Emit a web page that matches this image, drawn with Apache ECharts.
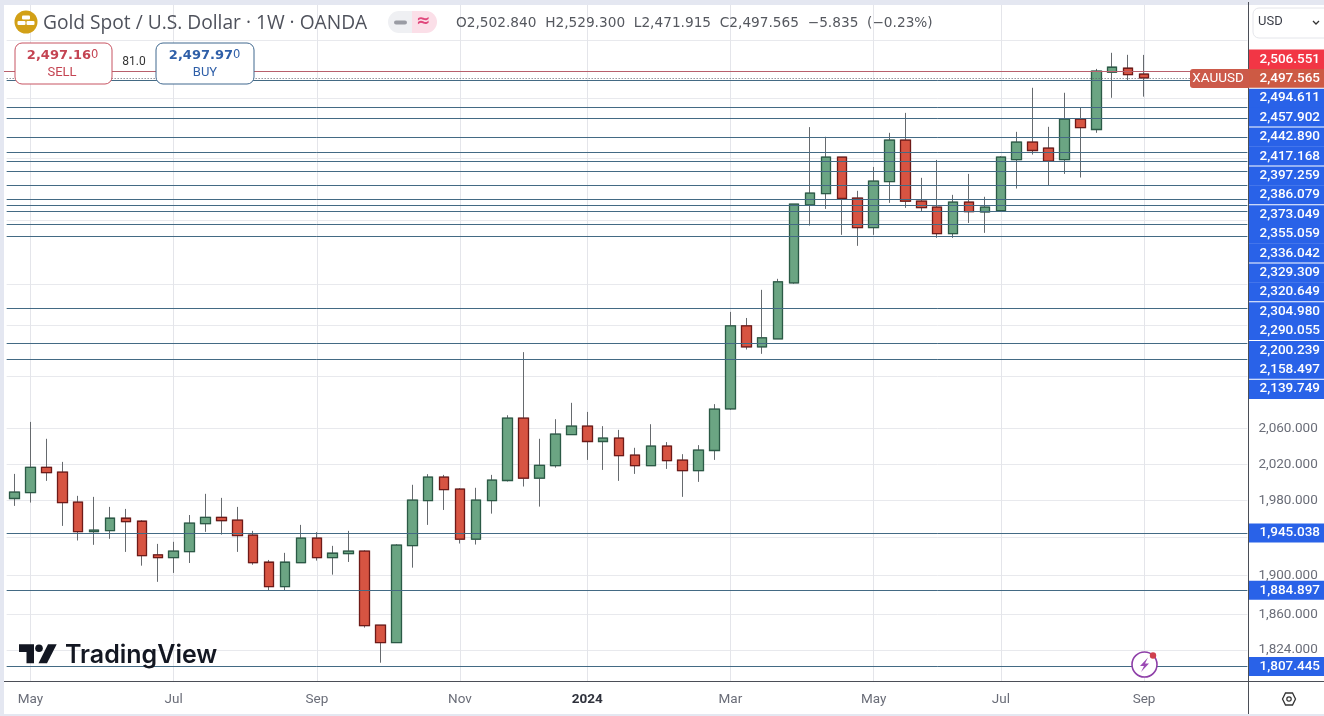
<!DOCTYPE html>
<html>
<head>
<meta charset="utf-8">
<title>Gold Spot / U.S. Dollar</title>
<script src="https://cdn.jsdelivr.net/npm/echarts@6/dist/echarts.min.js"></script>
<style>
    html, body { margin: 0; padding: 0; background: #e4e7f1; overflow: hidden; }
    #panel { position: absolute; left: 4px; top: 5px; width: 1320px; height: 709px; background: #fff; }
    #main { position: absolute; left: 0; top: 0; width: 1324px; height: 716px; }
</style>
</head>
<body>
<div id="panel"></div>
<div id="main"></div>
<script type="text/javascript">
// weekly candles, 24 Apr 2023 to 2 Sep 2024
var opens = [1982.2, 1988.7, 2016.5, 2011.1, 1978.2, 1946.5, 1947.6, 1960.8, 1957.6, 1921.7, 1918.9, 1925.2,
    1955.0, 1961.8, 1958.7, 1942.7, 1914.0, 1888.6, 1913.5, 1939.5, 1918.9, 1923.1, 1925.7, 1848.9,
    1831.4, 1931.6, 1980.0, 2005.6, 1992.5, 1938.4, 1980.0, 2001.9, 2071.6, 2004.5, 2018.3, 2053.1,
    2062.6, 2045.3, 2049.1, 2030.0, 2018.3, 2040.1, 2024.4, 2012.8, 2035.2, 2082.3, 2179.4, 2154.5,
    2164.0, 2231.6, 2329.2, 2343.8, 2391.1, 2337.9, 2300.4, 2359.3, 2413.6, 2334.0, 2326.3, 2292.8,
    2332.7, 2320.2, 2321.9, 2387.9, 2411.0, 2403.0, 2387.9, 2441.5, 2427.7, 2505.4, 2510.8, 2502.84];
var closes = [1989.2, 2016.5, 2010.6, 1977.8, 1946.5, 1948.0, 1960.8, 1957.2, 1921.0, 1918.9, 1925.7, 1955.5,
    1961.8, 1958.2, 1942.3, 1913.5, 1888.6, 1914.0, 1939.5, 1918.9, 1923.5, 1925.7, 1848.5, 1831.4,
    1932.1, 1980.4, 2005.6, 1992.0, 1938.4, 1980.4, 2002.3, 2071.6, 2004.5, 2018.7, 2053.6, 2062.6,
    2045.3, 2049.1, 2029.5, 2018.3, 2040.1, 2023.9, 2012.8, 2035.6, 2081.9, 2179.4, 2154.5, 2165.2,
    2232.8, 2330.1, 2344.3, 2391.1, 2337.4, 2300.4, 2359.8, 2413.6, 2334.0, 2325.8, 2292.8, 2332.7,
    2320.6, 2326.3, 2391.1, 2411.0, 2399.9, 2385.8, 2441.5, 2430.3, 2506.8, 2512.2, 2502.1, 2497.565];
var lows = [1974.2, 1977.8, 2001.5, 1952.6, 1937.0, 1932.4, 1938.8, 1924.9, 1910.4, 1893.5, 1902.8, 1913.2,
    1946.2, 1943.3, 1924.9, 1911.4, 1884.9, 1884.9, 1913.5, 1915.7, 1901.0, 1914.3, 1846.5, 1811.2,
    1831.4, 1908.3, 1953.7, 1969.8, 1933.8, 1932.7, 1965.8, 2000.8, 1995.3, 1973.4, 2016.1, 2053.1,
    2024.7, 2013.6, 2001.5, 2009.2, 2018.3, 2014.7, 1984.0, 2000.4, 2024.7, 2081.1, 2151.3, 2146.2,
    2164.0, 2230.4, 2302.9, 2324.1, 2291.2, 2277.4, 2291.2, 2331.8, 2325.4, 2320.2, 2287.4, 2287.4,
    2306.2, 2293.7, 2320.2, 2350.3, 2394.5, 2354.6, 2369.2, 2364.5, 2423.3, 2470.4, 2494.5, 2471.915];
var highs = [2009.2, 2067.4, 2048.3, 2022.5, 1985.1, 1984.0, 1973.1, 1970.9, 1958.7, 1933.4, 1935.6, 1964.3,
    1987.3, 1982.9, 1973.1, 1947.3, 1916.4, 1923.9, 1953.7, 1945.9, 1931.3, 1947.3, 1926.7, 1848.9,
    1933.1, 1997.2, 2008.9, 2008.1, 1993.6, 1993.9, 2008.1, 2075.0, 2148.2, 2048.3, 2070.5, 2089.2,
    2078.8, 2062.6, 2058.4, 2038.2, 2064.8, 2044.6, 2031.1, 2041.2, 2087.7, 2196.2, 2188.9, 2223.0,
    2236.5, 2330.1, 2430.9, 2418.0, 2391.1, 2347.3, 2378.3, 2423.3, 2450.0, 2364.1, 2387.5, 2342.1,
    2369.2, 2339.6, 2392.4, 2424.6, 2484.0, 2431.3, 2477.2, 2457.2, 2509.9, 2532.2, 2529.4, 2529.3];

var monthTicks = {
    '2023-05-01': 'May', '2023-07-03': 'Jul', '2023-09-04': 'Sep', '2023-11-06': 'Nov', '2024-01-01': '2024',
    '2024-03-04': 'Mar', '2024-05-06': 'May', '2024-07-01': 'Jul', '2024-09-02': 'Sep'
};
var priceTicks = [2060, 2020, 1980, 1900, 1860, 1824];
var gridPrices = [2550, 2470, 2390, 2310, 2230, 2180, 2120, 2060, 2020, 1980, 1940, 1900, 1860, 1824];
var askLevel = 2506.551;
var lastPrice = 2497.565;
var levels = [2494.611, 2457.902, 2442.890, 2417.168, 2397.259, 2386.079, 2373.049, 2355.059, 2336.042, 2329.309,
    2320.649, 2304.980, 2290.055, 2200.239, 2158.497, 2139.749, 1945.038, 1884.897, 1807.445];

// 72 candles plus the empty weeks on the right
var weeks = [];
for (var w = 0; w < 78; w++) {
    weeks.push(new Date(Date.UTC(2023, 3, 24 + w * 7)).toISOString().slice(0, 10));
}

var bodies = opens.map(function (o, i) {
    return [o, closes[i], Math.min(o, closes[i]), Math.max(o, closes[i])];
});
var candles = opens.map(function (o, i) {
    return [o, closes[i], lows[i], highs[i]];
});

function isMonthTick(index, value) {
    return monthTicks[value] !== undefined;
}
function price(v) {
    return v.toLocaleString('en-US', { minimumFractionDigits: 3, maximumFractionDigits: 3 });
}

var levelLines = levels.map(function (v) {
    return { yAxis: v, lineStyle: { color: '#436a84', width: 1, type: 'solid' } };
});
levelLines.push({ yAxis: lastPrice, lineStyle: { color: '#5b5f6b', width: 1, type: [1, 2] } });

var myChart = echarts.init(document.getElementById('main'), null, { renderer: 'canvas' });

var option = {
    animation: false,
    backgroundColor: 'transparent',
    grid: { left: 6.65, top: 5, width: 1240.75, height: 676 },
    xAxis: {
        type: 'category',
        data: weeks,
        axisLine: { show: false },
        axisTick: { show: false },
        axisLabel: {
            interval: isMonthTick,
            margin: 12,
            color: '#6a6d78',
            fontFamily: 'Roboto',
            fontSize: 13.5,
            formatter: function (value) {
                var t = monthTicks[value];
                return t === '2024' ? '{year|2024}' : t;
            },
            rich: { year: { fontFamily: 'Roboto', fontSize: 13.5, fontWeight: 'bold', color: '#2f323c' } }
        },
        splitLine: { show: true, interval: isMonthTick, alignWithLabel: true, lineStyle: { color: '#e4e5ea', width: 1 } }
    },
    yAxis: {
        type: 'log',
        position: 'right',
        min: 1793.1,
        max: 2599.6,
        axisLine: { show: false },
        axisTick: { show: false, customValues: gridPrices },
        axisLabel: {
            customValues: priceTicks,
            color: '#6a6d78',
            fontFamily: 'Roboto',
            fontSize: 13.5,
            margin: 11,
            formatter: function (v) { return price(v); }
        },
        splitLine: { show: true, lineStyle: { color: '#e8e9ed', width: 1 } }
    },
    series: [
        {
            type: 'candlestick',
            name: 'XAUUSD wicks',
            data: candles,
            barWidth: 10,
            itemStyle: { color: '#6ba583', color0: '#d75442', borderColor: '#666a6e', borderColor0: '#666a6e', borderWidth: 1 },
            markLine: {
                silent: true,
                symbol: ['none', 'none'],
                label: { show: false },
                data: levelLines
            }
        },
        {
            type: 'candlestick',
            name: 'XAUUSD',
            data: bodies,
            barWidth: 10,
            barGap: '-100%',
            itemStyle: { color: '#6ba583', color0: '#d75442', borderColor: '#2b5a46', borderColor0: '#6e1a18', borderColorDoji: '#2b5a46', borderWidth: 1.3 }
        }
    ]
};
myChart.setOption(option);

function label(text, x, y, fill, font, align) {
    return { type: 'text', silent: true, z: 30, x: x, y: y,
        style: { text: text, fill: fill, font: font, align: align || 'left', verticalAlign: 'middle' } };
}
function box(x, y, w, h, fill, stroke, r, z) {
    return { type: 'rect', silent: true, z: z || 29, shape: { x: x, y: y, width: w, height: h, r: r || 0 },
        style: { fill: fill, stroke: stroke || null, lineWidth: 1 } };
}
function rule(x1, y1, x2, y2, color) {
    return { type: 'line', silent: true, z: 28, shape: { x1: x1, y1: y1, x2: x2, y2: y2 },
        style: { stroke: color || '#4b4e57', lineWidth: 1 } };
}

var tagFont = '500 13.5px Roboto';
var g = [];

// frame of the price and time scales
g.push(rule(1248.5, 2, 1248.5, 714));
g.push(rule(4, 681.5, 1324, 681.5));

// ask line sits on top of everything on the pane
var askY = Math.round(myChart.convertToPixel({ yAxisIndex: 0 }, askLevel)) + 0.5;
g.push(rule(4, askY, 1248, askY, '#b8606c'));

// price tags: the crowded ones are stacked from the top, as on the original scale
var stackTop = 49.5, stackStep = 19.4;
var stacked = [askLevel, lastPrice].concat(levels.slice(0, 16));
stacked.forEach(function (v, i) {
    var fill = i === 0 ? '#f23645' : (i === 1 ? '#cd5a44' : '#2962e8');
    g.push(box(1249, stackTop + i * stackStep, 75, stackStep + 0.3, fill));
    g.push(label(price(v), 1320, stackTop + (i + 0.5) * stackStep, '#fff', tagFont, 'right'));
});
[2, 4, 6, 8, 11, 13, 15, 17].forEach(function (i) {
    g.push(box(1249, stackTop + i * stackStep - 0.5, 75, 1, '#fff', null, 0, 30));
});
levels.slice(16).forEach(function (v) {
    var y = myChart.convertToPixel({ yAxisIndex: 0 }, v);
    g.push(box(1249, y - 9.5, 75, 19, '#2962e8'));
    g.push(label(price(v), 1320, y, '#fff', tagFont, 'right'));
});
g.push(box(1190, 69, 59, 19, '#cc5a4a', null, [3, 0, 0, 3]));
g.push(label('XAUUSD', 1218, 79, '#fff', '13.5px Roboto', 'center'));

// currency box
g.push(box(1253, 8, 80, 30, '#fff', '#e4e5ea', 6));
g.push(label('USD', 1258, 22, '#3a3d47', '13px Roboto'));
g.push({ type: 'polyline', silent: true, z: 30, shape: { points: [[1313, 21], [1316, 24], [1319, 21]] },
    style: { stroke: '#333', lineWidth: 1.3, fill: null } });

// symbol header
g.push({ type: 'circle', silent: true, z: 28, shape: { cx: 26, cy: 22, r: 11.5 }, style: { fill: '#d2a017' } });
g.push(box(22, 15.5, 8, 4, '#fff', null, 1));
g.push(box(17.5, 21, 8, 4, '#fff', null, 1));
g.push(box(26.5, 21, 8, 4, '#fff', null, 1));
g.push(label('Gold Spot / U.S. Dollar \u00b7 1W \u00b7 OANDA', 43, 24, '#4f525c', '19.2px "Open Sans"'));
g.push(box(388, 11, 24, 22, '#eff0f3', null, [11, 0, 0, 11]));
g.push(box(412, 11, 25, 22, '#fbdfe8', null, [0, 11, 11, 0]));
g.push(box(394, 20.5, 13, 4, '#9a9ca4', null, 2, 30));
g.push(label('\u2248', 423, 22, '#e0487c', 'bold 17px "DejaVu Sans"', 'center'));
g.push(label('O2,502.840  H2,529.300  L2,471.915  C2,497.565  \u22125.835  (\u22120.23%)', 456, 23, '#55585f', '13.7px "DejaVu Sans"'));

// sell / buy buttons
g.push(box(15, 43, 97, 41, '#fff', '#c75462', 7));
g.push(label('2,497.16', 91, 56, '#c44452', 'bold 13px "DejaVu Sans"', 'right'));
g.push(label('0', 91, 55, '#c44452', '11.5px "DejaVu Sans"'));
g.push(label('SELL', 62, 73, '#c44452', '13px Roboto', 'center'));
g.push(label('81.0', 134, 62, '#333', '12px Roboto', 'center'));
g.push(box(156, 43, 98, 41, '#fff', '#41698f', 7));
g.push(label('2,497.97', 233, 56, '#2f5fa8', 'bold 13px "DejaVu Sans"', 'right'));
g.push(label('0', 233, 55, '#2f5fa8', '11.5px "DejaVu Sans"'));
g.push(label('BUY', 205, 73, '#2f5fa8', '13px Roboto', 'center'));

// watermark
g.push({ type: 'polygon', silent: true, z: 30, shape: { points: [[19, 644.3], [34, 644.3], [34, 663.3], [26.5, 663.3], [26.5, 652], [19, 652]] }, style: { fill: '#131722' } });
g.push({ type: 'circle', silent: true, z: 30, shape: { cx: 39, cy: 648.2, r: 3.8 }, style: { fill: '#131722' } });
g.push({ type: 'polygon', silent: true, z: 30, shape: { points: [[48, 644.3], [56.7, 644.3], [47, 663.3], [38.5, 663.3]] }, style: { fill: '#131722' } });
g.push(label('TradingView', 65, 655, '#131722', '600 25px Inter'));

// lightning badge
g.push({ type: 'circle', silent: true, z: 30, shape: { cx: 1144.5, cy: 664.5, r: 12.5 }, style: { fill: '#fff', stroke: '#8e3fa8', lineWidth: 1.6 } });
g.push({ type: 'polygon', silent: true, z: 31, shape: { points: [[1148, 657.5], [1140, 666], [1144, 666], [1141, 672], [1149, 663.5], [1145, 663.5]] }, style: { fill: '#9c4bb5' } });
g.push({ type: 'circle', silent: true, z: 31, shape: { cx: 1153, cy: 655.5, r: 3.2 }, style: { fill: '#d0404f' } });

// settings hexagon
g.push({ type: 'polygon', silent: true, z: 30, shape: { points: [[1282.5, 699], [1285.5, 693], [1292.5, 693], [1295.5, 699], [1292.5, 705], [1285.5, 705]] }, style: { fill: '#fff', stroke: '#333', lineWidth: 1.3 } });
g.push({ type: 'circle', silent: true, z: 31, shape: { cx: 1289, cy: 699, r: 2.2 }, style: { fill: '#fff', stroke: '#333', lineWidth: 1.2 } });

myChart.setOption({ graphic: g });
</script>
</body>
</html>
